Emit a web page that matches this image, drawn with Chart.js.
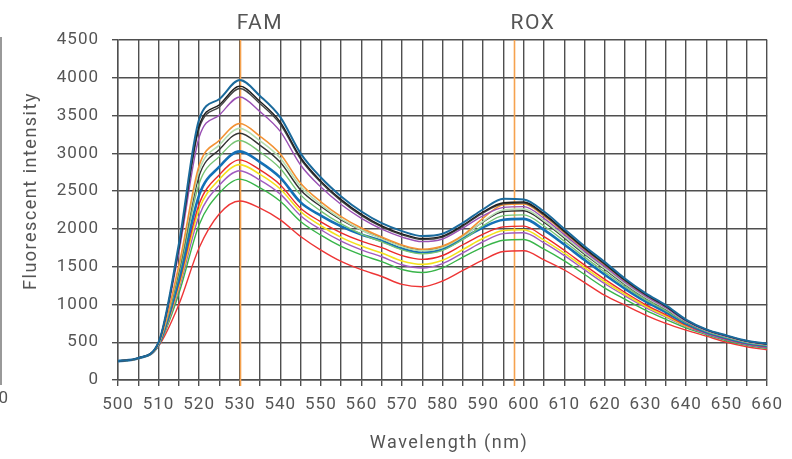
<!DOCTYPE html>
<html>
<head>
<meta charset="utf-8">
<script src="https://cdn.jsdelivr.net/npm/chart.js@4.4.1/dist/chart.umd.min.js"></script>
<style>
  html, body { margin: 0; padding: 0; background: #fff; }
</style>
</head>
<body>
<canvas id="spectra" width="792" height="459"></canvas>
<script>
const wavelengths = [500,505,510,515,520,525,530,535,540,545,550,555,560,565,570,575,580,585,590,595,600,605,610,615,620,625,630,635,640,645,650,655,660];

const blueTop    = [250,290,500,1800,3450,3720,3970,3760,3480,3000,2680,2430,2230,2075,1970,1905,1935,2080,2260,2400,2390,2230,2000,1770,1560,1340,1150,990,800,670,590,520,480];
const black1     = [250,290,498,1760,3365,3644,3890,3686,3412,2945,2632,2387,2192,2040,1935,1872,1904,2049,2227,2346,2356,2198,1973,1746,1538,1323,1136,978,793,666,586,516,476];
const black2     = [250,290,497,1744,3331,3614,3858,3656,3385,2923,2613,2370,2176,2026,1921,1858,1891,2036,2213,2332,2342,2185,1962,1736,1529,1316,1130,973,790,664,584,514,474];
const purple1    = [250,289,493,1688,3212,3507,3746,3552,3290,2846,2553,2323,2140,1997,1892,1831,1866,2011,2176,2285,2295,2140,1924,1703,1498,1291,1109,956,780,657,577,509,469];
const orange     = [250,288,482,1512,2838,3173,3394,3225,2990,2604,2358,2163,2011,1892,1787,1731,1773,1916,2143,2319,2329,2172,1951,1727,1520,1309,1124,968,787,662,582,513,473];
const lightGreen = [250,288,480,1480,2770,3112,3330,3166,2936,2560,2322,2133,1986,1871,1766,1711,1754,1897,2099,2251,2261,2108,1897,1679,1476,1274,1095,944,773,653,573,505,465];
const black3     = [250,288,478,1448,2702,3051,3266,3107,2882,2516,2296,2120,1984,1878,1773,1717,1760,1904,2093,2230,2240,2089,1880,1664,1463,1263,1086,937,769,650,570,502,462];
const green1     = [250,288,475,1400,2600,2960,3170,3018,2800,2450,2236,2065,1932,1828,1723,1671,1716,1860,2042,2176,2186,2038,1837,1626,1428,1235,1063,918,758,643,563,496,456];
const blue2      = [250,287,470,1328,2447,2823,3026,2884,2678,2351,2176,2034,1926,1842,1737,1684,1729,1872,2022,2122,2132,1987,1793,1588,1393,1207,1040,899,747,636,556,490,450];
const red2       = [250,287,467,1272,2328,2717,2914,2780,2582,2274,2094,1948,1837,1751,1646,1597,1648,1790,1932,2026,2036,1897,1717,1520,1331,1158,999,865,727,623,543,478,438];
const yellow     = [250,287,465,1240,2260,2656,2850,2721,2528,2230,2042,1888,1772,1680,1575,1530,1585,1727,1875,1979,1989,1852,1679,1487,1300,1134,979,848,717,640,565,500,462];
const purple2    = [250,286,462,1200,2175,2580,2770,2646,2460,2175,1989,1837,1722,1631,1526,1483,1541,1683,1831,1938,1948,1814,1646,1458,1274,1113,962,834,709,612,532,468,428];
const green2     = [250,286,459,1144,2056,2474,2658,2542,2365,2098,1917,1768,1656,1567,1462,1423,1485,1626,1758,1850,1860,1731,1576,1396,1217,1067,924,803,691,600,520,458,418];
const redLow     = [250,285,450,1000,1750,2200,2370,2275,2120,1900,1720,1570,1460,1370,1265,1235,1310,1450,1590,1700,1710,1590,1456,1290,1120,990,860,750,660,580,500,440,400];

const dyeNames = ['FAM', 'ROX'];
const dyePeaks = [530, 597.5];

const yTitle = 'Fluorescent intensity';
const xTitle = 'Wavelength (nm)';

const textColor = '#555';
const gridColor = '#4f4f4f';

Chart.defaults.font.family = 'Roboto';
Chart.defaults.font.size = 17;
Chart.defaults.color = textColor;

function series(values, color, width) {
    return {
        data: wavelengths.map((w, i) => ({ x: w, y: values[i] })),
        borderColor: color,
        backgroundColor: color,
        borderWidth: width || 1.4,
        pointRadius: 0,
        cubicInterpolationMode: 'monotone',
        fill: false
    };
}

// wide tracking, the source font is a DIN-like face
const spacing = {
    id: 'spacing',
    beforeLayout(chart) { chart.ctx.letterSpacing = '1px'; },
    beforeDraw(chart) { chart.ctx.letterSpacing = '1px'; }
};

const dyeLines = {
    id: 'dyeLines',
    beforeDatasetsDraw(chart) {
        const { ctx, chartArea, scales } = chart;
        ctx.save();
        ctx.strokeStyle = '#f6a24e';
        ctx.lineWidth = 1.6;
        dyePeaks.forEach(nm => {
            const x = Math.round(scales.x.getPixelForValue(nm)) + 0.5;
            ctx.beginPath();
            ctx.moveTo(x, chartArea.top);
            ctx.lineTo(x, chartArea.bottom + 6);
            ctx.stroke();
        });
        ctx.restore();
    },
    afterDraw(chart) {
        const { ctx, scales } = chart;
        ctx.save();
        ctx.fillStyle = textColor;
        ctx.letterSpacing = '1.5px';
        ctx.textAlign = 'left';
        ctx.textBaseline = 'alphabetic';
        ctx.font = '21px Roboto';
        dyePeaks.forEach((nm, i) => {
            const x = scales.x.getPixelForValue(nm);
            ctx.fillText(dyeNames[i], x - 3, 28.5);
        });

        ctx.font = '18px Roboto';
        ctx.textAlign = 'center';
        ctx.fillText(xTitle, 449, 448);

        ctx.save();
        ctx.translate(36, 191);
        ctx.rotate(-Math.PI / 2);
        ctx.fillText(yTitle, 0, 0);
        ctx.restore();

        // edge of the neighbouring panel, cut off in the source
        ctx.strokeStyle = '#777';
        ctx.lineWidth = 1.5;
        ctx.beginPath();
        ctx.moveTo(1, 37);
        ctx.lineTo(1, 385);
        ctx.stroke();
        ctx.font = '17px Roboto';
        ctx.letterSpacing = '1px';
        ctx.textAlign = 'right';
        ctx.fillText('50', 9, 403);
        ctx.restore();
    }
};

new Chart(document.getElementById('spectra'), {
    type: 'line',
    data: {
        datasets: [
            series(blueTop, '#1b6a9c', 2),
            series(black1, '#1f1f1f'),
            series(black2, '#444444'),
            series(purple1, '#9a50b4'),
            series(orange, '#f39234', 1.6),
            series(lightGreen, '#b5ddb0', 1.6),
            series(black3, '#333333'),
            series(green1, '#78c474'),
            series(blue2, '#1470b6', 2.6),
            series(red2, '#ec2b2b'),
            series(yellow, '#f4e21c', 1.6),
            series(purple2, '#a15cc0'),
            series(green2, '#39b54a'),
            series(redLow, '#ee3636')
        ]
    },
    options: {
        responsive: false,
        animation: false,
        layout: { padding: { top: 40, right: 22, bottom: 0, left: 0 } },
        plugins: {
            legend: { display: false },
            tooltip: { enabled: false }
        },
        scales: {
            x: {
                type: 'linear',
                min: 500,
                max: 660,
                grid: { color: gridColor, lineWidth: 1.4, tickLength: 6, tickColor: gridColor },
                border: { color: gridColor, width: 1.4 },
                ticks: {
                    stepSize: 5,
                    autoSkip: false,
                    maxRotation: 0,
                    padding: 9,
                    callback: v => (v % 10 === 0 ? String(v) : '')
                },
                afterFit(scale) { scale.height = 79; }
            },
            y: {
                min: 0,
                max: 4500,
                grid: { color: gridColor, lineWidth: 1.4, tickLength: 6, tickColor: gridColor },
                border: { color: gridColor, width: 1.4 },
                ticks: { stepSize: 500, padding: 13, callback: v => String(v) },
                afterFit(scale) { scale.width = 118; }
            }
        }
    },
    plugins: [spacing, dyeLines]
});
</script>
</body>
</html>
